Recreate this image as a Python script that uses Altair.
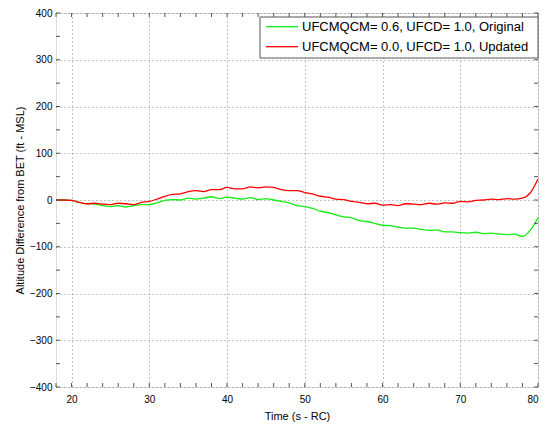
import altair as alt
import pandas as pd

time = list(range(18, 81))
updated = [0, 0, -1, -5, -8, -7, -9, -10, -7, -8, -10, -5, -3, 2, 8, 12, 13, 18, 20, 18,
           22, 22, 27, 24, 24, 28, 26, 28, 27, 22, 20, 20, 16, 13, 8, 6, 2, 1, -3, -5,
           -8, -7, -11, -10, -12, -8, -9, -10, -7, -9, -6, -7, -3, -4, -1, 0, 2, 1, 3, 2,
           4, 15, 45]
original = [0, 0, -1, -5, -8, -9, -12, -14, -12, -15, -12, -10, -10, -6, -1, 1, 0, 4, 2, 4,
            7, 3, 6, 4, 2, 5, 1, 3, 0, -3, -6, -12, -14, -18, -24, -27, -32, -36, -38, -44,
            -46, -50, -54, -55, -58, -60, -60, -63, -65, -64, -68, -68, -70, -71, -69, -72, -71, -73, -74, -73,
            -78, -65, -38]
names = ["UFCMQCM= 0.6, UFCD= 1.0, Original", "UFCMQCM= 0.0, UFCD= 1.0, Updated"]
colors = ["#11ee11", "#ff0000"]
x_ticks = [20, 30, 40, 50, 60, 70, 80]
y_ticks = [-400, -300, -200, -100, 0, 100, 200, 300, 400]
x_minor = list(range(18, 81, 2))
y_minor = list(range(-400, 401, 50))

W, H = 482, 374

df = pd.concat([
    pd.DataFrame({"t": time, "v": original, "s": names[0], "o": 0}),
    pd.DataFrame({"t": time, "v": updated, "s": names[1], "o": 1}),
])

xscale = alt.Scale(domain=[18, 80], nice=False, zero=False)
yscale = alt.Scale(domain=[-400, 400], nice=False, zero=False)
font = "Liberation Sans"

xaxis = alt.Axis(values=x_ticks, grid=True, ticks=False, domain=False,
                 labelPadding=7, titlePadding=6, format="d", titleFontWeight="normal",
                 gridDash=[1, 3], gridColor="#888")
yaxis = alt.Axis(values=y_ticks, grid=True, ticks=False, domain=False,
                 labelPadding=4, titlePadding=4, format="d", titleFontWeight="normal",
                 gridDash=[1, 3], gridColor="#888")
xtitle = "Time (s - RC)"
ytitle = "Altitude Difference from BET (ft - MSL)"

lines = alt.Chart(df).mark_line(strokeWidth=1.3, interpolate="monotone").encode(
    x=alt.X("t:Q", scale=xscale, title=xtitle, axis=xaxis),
    y=alt.Y("v:Q", scale=yscale, title=ytitle, axis=yaxis),
    color=alt.Color("s:N", scale=alt.Scale(domain=names, range=colors), legend=None),
    order="o:Q",
    detail="s:N",
)

xdf = pd.DataFrame({"t": x_minor})
ydf = pd.DataFrame({"v": y_minor})
tc = "#555"
xt_top = alt.Chart(xdf).mark_rule(color=tc).encode(
    x=alt.X("t:Q", scale=xscale, title=xtitle, axis=xaxis), y=alt.value(0), y2=alt.value(4))
xt_bot = alt.Chart(xdf).mark_rule(color=tc).encode(
    x=alt.X("t:Q", scale=xscale, title=xtitle, axis=xaxis), y=alt.value(H - 4), y2=alt.value(H))
yt_left = alt.Chart(ydf).mark_rule(color=tc).encode(
    y=alt.Y("v:Q", scale=yscale, title=ytitle, axis=yaxis), x=alt.value(0), x2=alt.value(4))
yt_right = alt.Chart(ydf).mark_rule(color=tc).encode(
    y=alt.Y("v:Q", scale=yscale, title=ytitle, axis=yaxis), x=alt.value(W - 4), x2=alt.value(W))

# legend (drawn as a box with sample lines and labels)
ldf = pd.DataFrame({"name": names, "col": colors, "i": [0, 1]})
leg_box = alt.Chart(pd.DataFrame({"a": [0]})).mark_rect(
    fill="white", stroke="#555", strokeWidth=1).encode(
    x=alt.value(204), x2=alt.value(W), y=alt.value(4), y2=alt.value(45))
leg_base = alt.Chart(ldf).transform_calculate(py="13.7 + 20 * datum.i")
leg_lines = leg_base.mark_rule(strokeWidth=1.3).encode(
    x=alt.value(210), x2=alt.value(242),
    y=alt.Y("py:Q", scale=None, axis=None),
    color=alt.Color("col:N", scale=None, legend=None))
leg_text = leg_base.mark_text(align="left", baseline="middle", font=font,
                              fontSize=13, color="black").encode(
    x=alt.value(246), y=alt.Y("py:Q", scale=None, axis=None), text="name:N")

chart = alt.layer(lines, xt_top, xt_bot, yt_left, yt_right,
                  leg_box, leg_lines, leg_text).properties(
    width=W, height=H,
    autosize=alt.AutoSizeParams(type="none"),
    padding={"left": 56, "top": 13, "right": 9, "bottom": 43},
).configure_view(stroke="#555", strokeWidth=1).configure_axis(
    labelFont=font, titleFont=font, labelFontSize=12, titleFontSize=12,
    labelColor="black", titleColor="black", titleFontWeight="normal",
).configure(background="white")

chart.save("out.html", embed_options={"renderer": "svg", "actions": False})
